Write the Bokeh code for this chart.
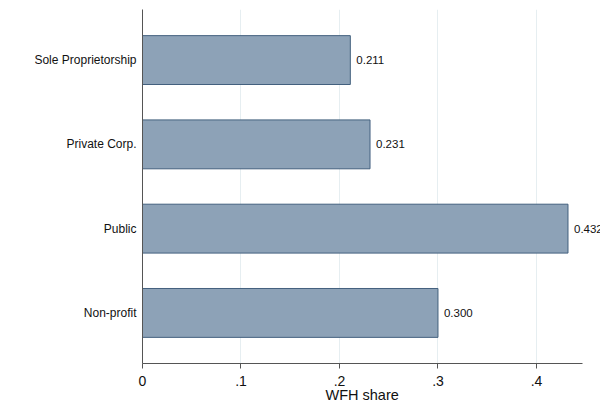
from bokeh.plotting import figure
from bokeh.models import FactorRange, Range1d, FixedTicker, ColumnDataSource, LabelSet, Title
from bokeh.core.properties import value
from bokeh.embed import file_html
from bokeh.resources import INLINE

categories = ["Sole Proprietorship", "Private Corp.", "Public", "Non-profit"]
wfh_share = [0.211, 0.231, 0.432, 0.300]
value_labels = ["0.211", "0.231", "0.432", "0.300"]
tick_values = [0, 0.1, 0.2, 0.3, 0.4]
tick_labels = ["0", ".1", ".2", ".3", ".4"]
x_title = "WFH share"

FONT = "Liberation Sans"
AXIS_END = 0.4467

factors = list(reversed(categories))
src = ColumnDataSource(dict(cat=categories, val=wfh_share, lab=value_labels))

p = figure(width=600, height=419, output_backend="svg", toolbar_location=None,
           y_range=FactorRange(factors=factors, range_padding=0.1, range_padding_units="absolute"),
           x_range=Range1d(0, 0.465),
           min_border_left=142, min_border_right=0, min_border_top=9, min_border_bottom=56)

p.hbar(y="cat", right="val", left=0, height=0.58, source=src,
       fill_color="#8DA2B7", line_color="#43607E", line_width=1)

labels = LabelSet(x="val", y="cat", text="lab", source=src, x_offset=6,
                  text_baseline="middle", text_align="left",
                  text_font=value(FONT), text_font_size="11.5px", text_color="#111111")
p.add_layout(labels)

p.outline_line_color = None
p.background_fill_color = "white"
p.border_fill_color = "white"

p.ygrid.grid_line_color = None
p.xgrid.grid_line_color = "#E6EEF1"
p.xgrid.grid_line_width = 1
p.xgrid.ticker = FixedTicker(ticks=tick_values)

p.xaxis.bounds = (0, AXIS_END)
p.xaxis.ticker = FixedTicker(ticks=tick_values)
p.xaxis.major_label_overrides = {v: l for v, l in zip(tick_values, tick_labels)}
p.xaxis.major_label_text_font = FONT
p.xaxis.major_label_text_font_size = "14px"
p.xaxis.major_label_text_color = "#111111"
p.xaxis.major_label_standoff = 7
p.xaxis.major_tick_out = 5
p.xaxis.major_tick_in = 0
p.xaxis.minor_tick_line_color = None
p.xaxis.axis_line_color = "#555555"
p.xaxis.major_tick_line_color = "#555555"

xt = Title(text=x_title, align="left", offset=183, standoff=-8,
           text_font=FONT, text_font_size="14.5px", text_font_style="normal",
           text_color="#111111")
p.add_layout(xt, "below")

p.yaxis.major_tick_line_color = None
p.yaxis.major_tick_out = 0
p.yaxis.major_tick_in = 0
p.yaxis.minor_tick_line_color = None
p.yaxis.axis_line_color = "#555555"
p.yaxis.major_label_text_font = FONT
p.yaxis.major_label_text_font_size = "12px"
p.yaxis.major_label_text_color = "#111111"
p.yaxis.major_label_standoff = 6

open("out.html", "w").write(file_html(p, INLINE))
